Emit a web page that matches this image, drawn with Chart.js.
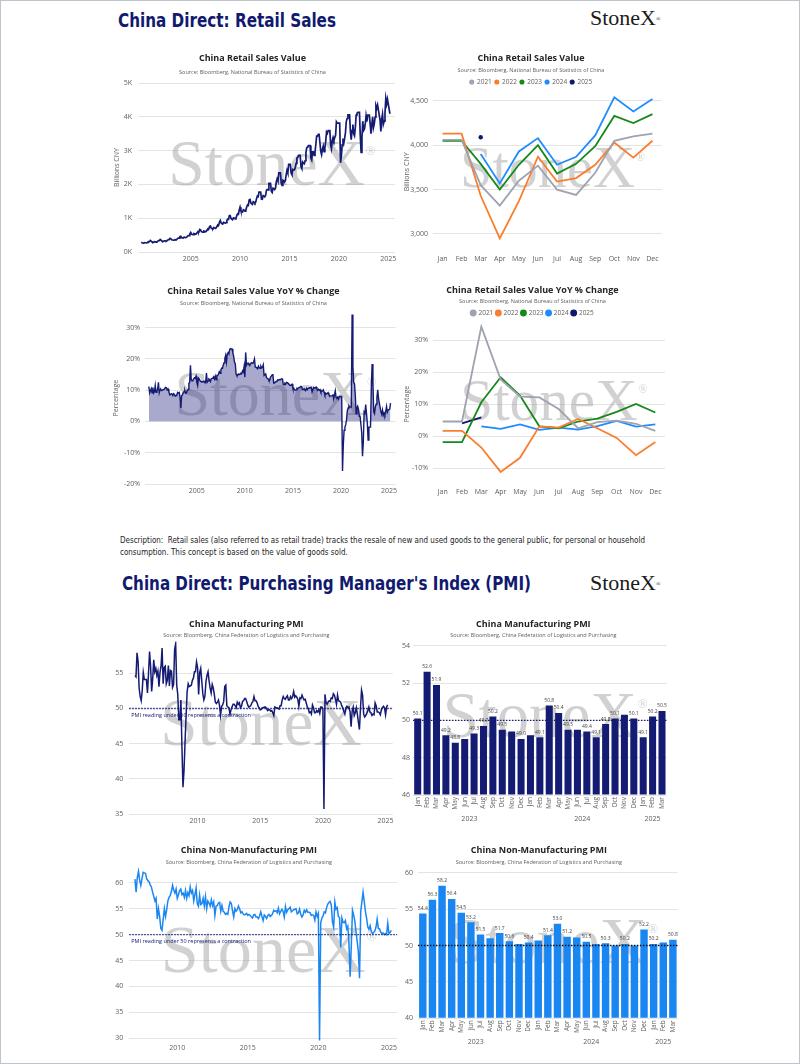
<!DOCTYPE html>
<html>
<head>
<meta charset="utf-8">
<title>China Direct: Retail Sales and PMI</title>
<script src="https://cdn.jsdelivr.net/npm/chart.js@4.4.1/dist/chart.umd.min.js"></script>
<style>
  html, body { margin: 0; padding: 0; background: #ffffff; }
  #page { position: relative; width: 800px; height: 1064px; overflow: hidden; background: #ffffff; }
  #frame { position: absolute; left: 0; top: 0; width: 800px; height: 1064px; box-sizing: border-box; border: 1px solid #bfc4cc; pointer-events: none; }
  .head { position: absolute; font-family: "DejaVu Sans Condensed", "DejaVu Sans", sans-serif; font-weight: bold; font-size: 20px; line-height: 24px; color: #111a6f; white-space: nowrap; transform-origin: 0 50%; }
  .logo { position: absolute; font-family: "Liberation Serif", "DejaVu Serif", serif; font-size: 22px; line-height: 24px; color: #1b1b1b; white-space: nowrap; }
  .logo sup { font-size: 6px; vertical-align: top; position: relative; top: 1px; }
  .desc { position: absolute; left: 120px; top: 534px; font-family: "DejaVu Sans Condensed", "DejaVu Sans", sans-serif; font-size: 8.6px; line-height: 12px; color: #222222; white-space: nowrap; transform-origin: 0 0; }
  .box { position: absolute; width: 300px; height: 222px; }
</style>
</head>
<body>
<div id="page">
  <div class="head" data-fit="218" style="left:118px;top:8px">China Direct: Retail Sales</div>
  <div class="logo" style="left:590px;top:6px">StoneX<sup>®</sup></div>

  <div class="box" style="left:100px;top:48px"><canvas id="retailValue"></canvas></div>
  <div class="box" style="left:400px;top:48px"><canvas id="retailSeason"></canvas></div>
  <div class="box" style="left:100px;top:280px"><canvas id="retailYoY"></canvas></div>
  <div class="box" style="left:400px;top:280px"><canvas id="retailYoYSeason"></canvas></div>

  <div class="desc" data-fit="525"><span>Description:&nbsp; Retail sales (also referred to as retail trade) tracks the resale of new and used goods to the general public, for personal or household</span><br><span>consumption. This concept is based on the value of goods sold.</span></div>

  <div class="head" data-fit="409" style="left:122px;top:571px">China Direct: Purchasing Manager's Index (PMI)</div>
  <div class="logo" style="left:590px;top:571px">StoneX<sup>®</sup></div>

  <div class="box" style="left:100px;top:612px"><canvas id="mfgLine"></canvas></div>
  <div class="box" style="left:400px;top:612px"><canvas id="mfgBars"></canvas></div>
  <div class="box" style="left:100px;top:840px"><canvas id="nonMfgLine"></canvas></div>
  <div class="box" style="left:400px;top:840px"><canvas id="nonMfgBars"></canvas></div>
  <div id="frame"></div>
</div>

<script>
// ---- DATA ----
const monthNames = ['Jan', 'Feb', 'Mar', 'Apr', 'May', 'Jun', 'Jul', 'Aug', 'Sep', 'Oct', 'Nov', 'Dec'];

// retail sales value, billions CNY (year, Jan..Dec)
const retailSalesValue = [
  [2000, 294, 271, 265, 262, 276, 274, 268, 274, 294, 308, 305, 339],
  [2001, 322, 298, 291, 288, 304, 300, 294, 300, 322, 338, 335, 372],
  [2002, 351, 324, 317, 314, 331, 327, 321, 327, 351, 368, 365, 406],
  [2003, 393, 363, 355, 351, 348, 367, 359, 367, 393, 413, 409, 455],
  [2004, 464, 428, 419, 414, 437, 432, 423, 432, 464, 486, 482, 536],
  [2005, 577, 532, 521, 515, 543, 538, 526, 538, 577, 605, 599, 666],
  [2006, 656, 605, 592, 586, 618, 612, 599, 612, 656, 688, 682, 758],
  [2007, 765, 706, 691, 684, 721, 713, 698, 713, 765, 802, 795, 884],
  [2008, 931, 859, 841, 832, 877, 868, 850, 868, 931, 976, 967, 1076],
  [2009, 1075, 992, 971, 960, 1013, 1002, 981, 1002, 1075, 1128, 1117, 1242],
  [2010, 1327, 1224, 1198, 1185, 1249, 1236, 1211, 1236, 1327, 1391, 1378, 1533],
  [2011, 1579, 1456, 1426, 1410, 1487, 1472, 1441, 1472, 1579, 1656, 1640, 1772],
  [2012, 1772, 1772, 1564, 1560, 1670, 1660, 1633, 1670, 1823, 1850, 1840, 2033],
  [2013, 2033, 2033, 1790, 1760, 1890, 1880, 1850, 1890, 2070, 2160, 2100, 2340],
  [2014, 2340, 2340, 2040, 1970, 2120, 2110, 2070, 2110, 2290, 2420, 2340, 2590],
  [2015, 2590, 2590, 2340, 2290, 2440, 2430, 2430, 2490, 2620, 2780, 2800, 2860],
  [2016, 2860, 2860, 2520, 2470, 2660, 2630, 2610, 2700, 2950, 3090, 3100, 3150],
  [2017, 3150, 3150, 2780, 2720, 2960, 2960, 2860, 2950, 3180, 3430, 3430, 3480],
  [2018, 3480, 3480, 2980, 2880, 3040, 3130, 2970, 3080, 3270, 3550, 3510, 3590],
  [2019, 3590, 3590, 3170, 3060, 3300, 3390, 3310, 3390, 3450, 3850, 3810, 3810],
  [2020, 3810, 3810, 2640, 2820, 3170, 3360, 3220, 3360, 3530, 3860, 3950, 4060],
  [2021, 4060, 4060, 3550, 3320, 3600, 3770, 3500, 3440, 3690, 4050, 4100, 4130],
  [2022, 4130, 4130, 3430, 2950, 3370, 3870, 3590, 3630, 3780, 4030, 3860, 4050],
  [2023, 4050, 4050, 3790, 3500, 3780, 4000, 3680, 3790, 3990, 4330, 4250, 4350],
  [2024, null, null, 3900, 3570, 3930, 4080, 3780, 3870, 4110, 4540, 4380, 4520],
  [2025, null, null, 4090]
];

// retail sales value YoY %, (year, Jan..Dec)
const retailSalesYoY = [
  [2000, 11.2, 9.1, 9.8, 10.5, 9.2, 10.9, 9.1, 9.5, 11.5, 9.3, 9.6, 10.4],
  [2001, 12.5, 9.2, 10.1, 10.3, 9.9, 10.1, 10.2, 10.3, 10.3, 10.9, 10.8, 10.1],
  [2002, 10.4, 9.6, 8.5, 8.6, 8.9, 8.8, 8.5, 8.9, 8.6, 8.1, 8.3, 8.6],
  [2003, 9.3, 9.1, 9.3, 7.7, 4.3, 8.3, 8.5, 9.3, 9.5, 9.9, 9.0, 9.1],
  [2004, 10.0, 10.2, 12.2, 12.5, 18.0, 13.3, 13.0, 13.2, 13.6, 14.0, 13.8, 14.5],
  [2005, 12.5, 11.5, 13.9, 13.6, 13.0, 12.8, 12.7, 12.7, 12.8, 12.9, 12.5, 12.5],
  [2006, 15.5, 12.6, 13.0, 13.6, 13.4, 12.8, 13.7, 13.8, 13.9, 14.3, 13.6, 14.5],
  [2007, 13.3, 14.7, 14.7, 15.2, 15.9, 15.4, 16.4, 17.1, 17.0, 18.1, 18.8, 20.2],
  [2008, 21.2, 19.1, 21.5, 22.0, 21.6, 23.0, 23.3, 23.2, 23.2, 22.0, 20.8, 19.0],
  [2009, 18.5, 15.2, 14.7, 14.8, 15.2, 15.0, 15.2, 15.4, 15.3, 16.2, 15.8, 17.5],
  [2010, 14.2, 22.1, 18.0, 18.5, 18.7, 18.3, 17.9, 18.4, 18.8, 18.6, 18.7, 19.1],
  [2011, 20.0, 17.4, 17.4, 17.1, 16.9, 17.7, 17.2, 17.0, 17.7, 17.2, 17.3, 18.1],
  [2012, 14.7, 14.7, 15.2, 14.1, 13.8, 13.7, 13.1, 13.2, 14.2, 14.5, 14.9, 15.2],
  [2013, 12.3, 12.3, 12.6, 12.8, 12.9, 13.3, 13.2, 13.4, 13.3, 13.3, 13.7, 13.6],
  [2014, 11.8, 11.8, 12.2, 11.9, 12.5, 12.4, 12.2, 11.9, 11.6, 11.5, 11.7, 11.9],
  [2015, 10.7, 10.7, 10.2, 10.0, 10.1, 10.6, 10.5, 10.8, 10.9, 11.0, 11.2, 11.1],
  [2016, 10.2, 10.2, 10.5, 10.1, 10.0, 10.6, 10.2, 10.6, 10.7, 10.8, 10.8, 10.9],
  [2017, 9.5, 9.5, 10.9, 10.7, 10.7, 11.0, 10.4, 10.1, 10.3, 10.0, 10.2, 9.4],
  [2018, 9.7, 9.7, 10.1, 9.4, 8.5, 9.0, 8.8, 9.0, 9.2, 8.6, 8.1, 8.2],
  [2019, 8.2, 8.2, 8.7, 7.2, 8.6, 9.8, 7.6, 7.5, 7.8, 7.2, 8.0, 8.0],
  [2020, 8.0, 8.0, -15.8, -7.5, -2.8, -1.8, -1.1, 0.5, 3.3, 4.3, 5.0, 4.6],
  [2021, 4.6, 4.6, 34.2, 17.7, 12.4, 12.1, 8.5, 2.5, 4.4, 4.9, 3.9, 1.7],
  [2022, 1.7, 1.7, -3.5, -11.1, -6.7, 3.1, 2.7, 5.4, 2.5, -0.5, -5.9, -1.8],
  [2023, -1.8, -1.8, 10.6, 18.4, 12.7, 3.1, 2.5, 4.6, 5.5, 7.6, 10.1, 7.4],
  [2024, null, null, 3.1, 2.3, 3.7, 2.0, 2.7, 2.1, 3.2, 4.8, 3.0, 3.7],
  [2025, null, 4.0, 5.9]
];

// manufacturing PMI (year, Jan..Dec)
const mfgPMI = [
  [2005, 54.7, 54.5, 57.9, 56.7, 52.9, 51.7, 51.1, 52.6, 55.1, 54.1, 54.1, 54.1],
  [2006, 52.2, 55.0, 58.1, 56.0, 52.4, 54.2, 56.9, 55.2, 55.7, 54.7, 55.3, 53.1],
  [2007, 55.1, 56.0, 58.6, 53.5, 55.8, 56.0, 53.5, 54.0, 56.1, 53.2, 55.4, 55.3],
  [2008, 53.0, 53.4, 58.4, 59.2, 53.3, 52.0, 48.4, 48.4, 51.2, 44.6, 38.8, 41.2],
  [2009, 45.3, 49.0, 52.4, 53.5, 53.1, 53.2, 53.3, 54.0, 54.3, 55.2, 55.2, 56.6],
  [2010, 55.8, 52.0, 55.1, 55.7, 53.9, 52.1, 51.2, 51.7, 53.8, 54.7, 55.2, 53.9],
  [2011, 52.9, 52.2, 53.4, 52.9, 52.0, 50.9, 50.7, 50.9, 51.2, 50.4, 49.0, 50.3],
  [2012, 50.5, 51.0, 53.1, 53.3, 50.4, 50.2, 50.1, 49.2, 49.8, 50.2, 50.6, 50.6],
  [2013, 50.4, 50.1, 50.9, 50.6, 50.8, 50.1, 50.3, 51.0, 51.1, 51.4, 51.4, 51.0],
  [2014, 50.5, 50.2, 50.3, 50.4, 50.8, 51.0, 51.7, 51.1, 51.1, 50.8, 50.3, 50.1],
  [2015, 49.8, 49.9, 50.1, 50.1, 50.2, 50.2, 50.0, 49.7, 49.8, 49.8, 49.6, 49.7],
  [2016, 49.4, 49.0, 50.2, 50.1, 50.1, 50.0, 49.9, 50.4, 50.4, 51.2, 51.7, 51.4],
  [2017, 51.3, 51.6, 51.8, 51.2, 51.2, 51.7, 51.4, 51.7, 52.4, 51.6, 51.8, 51.6],
  [2018, 51.3, 50.3, 51.5, 51.4, 51.9, 51.5, 51.2, 51.3, 50.8, 50.2, 50.0, 49.4],
  [2019, 49.5, 49.2, 50.5, 50.1, 49.4, 49.4, 49.7, 49.5, 49.8, 49.3, 50.2, 50.2],
  [2020, 50.0, 35.7, 52.0, 50.8, 50.6, 50.9, 51.1, 51.0, 51.5, 51.4, 52.1, 51.9],
  [2021, 51.3, 50.6, 51.9, 51.1, 51.0, 50.9, 50.4, 50.1, 49.6, 49.2, 50.1, 50.3],
  [2022, 50.1, 50.2, 49.5, 47.4, 49.6, 50.2, 49.0, 49.4, 50.1, 49.2, 48.0, 47.0],
  [2023, 50.1, 52.6, 51.9, 49.2, 48.8, 49.0, 49.3, 49.7, 50.2, 49.5, 49.4, 49.0],
  [2024, 49.2, 49.1, 50.8, 50.4, 49.5, 49.5, 49.4, 49.1, 49.8, 50.1, 50.3, 50.1],
  [2025, 49.1, 50.2, 50.5]
];

// non-manufacturing PMI (year, Jan..Dec)
const nonMfgPMI = [
  [2007, 60.7, 58.2, 61.0, 62.2, 60.5, 59.5, 60.8, 62.0, 61.9, 61.8, 60.8, 60.4],
  [2008, 60.2, 59.6, 59.2, 58.2, 57.4, 56.5, 57.0, 53.0, 55.0, 53.5, 51.2, 50.8],
  [2009, 52.9, 55.0, 53.5, 54.8, 56.5, 57.2, 57.5, 58.3, 59.5, 58.6, 58.0, 58.8],
  [2010, 57.0, 57.7, 58.5, 58.8, 57.7, 58.0, 57.2, 58.5, 57.0, 58.1, 57.5, 59.2],
  [2011, 58.0, 58.5, 56.5, 57.7, 59.0, 56.0, 55.5, 57.6, 55.8, 56.0, 57.0, 55.5],
  [2012, 57.3, 55.0, 56.5, 56.1, 55.5, 56.7, 55.6, 56.3, 53.7, 55.5, 55.6, 56.1],
  [2013, 56.2, 54.5, 55.6, 54.5, 54.3, 53.9, 54.1, 53.9, 55.4, 56.3, 56.0, 54.6],
  [2014, 53.4, 55.0, 54.5, 54.8, 55.5, 55.0, 54.2, 54.4, 54.0, 53.8, 53.9, 54.1],
  [2015, 53.7, 53.9, 53.7, 53.4, 53.2, 53.8, 53.9, 53.4, 53.4, 53.1, 53.6, 54.4],
  [2016, 53.5, 52.7, 53.8, 53.5, 53.1, 53.7, 53.9, 53.5, 53.7, 54.0, 54.7, 54.5],
  [2017, 54.6, 54.2, 55.1, 54.0, 54.5, 54.9, 54.5, 53.4, 55.4, 54.3, 54.8, 55.0],
  [2018, 55.3, 54.4, 54.6, 54.8, 54.9, 55.0, 54.0, 54.2, 54.9, 53.9, 53.4, 53.8],
  [2019, 54.7, 54.3, 54.8, 54.3, 54.3, 54.2, 53.7, 53.8, 53.7, 52.8, 54.4, 53.5],
  [2020, 54.1, 29.6, 52.3, 53.2, 53.6, 54.4, 54.2, 55.2, 55.9, 56.2, 56.4, 55.7],
  [2021, 52.4, 51.4, 56.3, 54.9, 55.2, 53.5, 53.3, 47.5, 53.2, 52.4, 52.3, 52.7],
  [2022, 51.1, 51.6, 48.4, 41.9, 47.8, 54.7, 53.8, 52.6, 50.6, 48.7, 46.7, 41.6],
  [2023, 54.4, 56.3, 58.2, 56.4, 54.5, 53.2, 51.5, 51.0, 51.7, 50.6, 50.2, 50.4],
  [2024, 50.7, 51.4, 53.0, 51.2, 51.1, 50.5, 50.2, 50.3, 50.0, 50.2, 50.0, 52.2],
  [2025, 50.2, 50.4, 50.8]
];

const seasonYears = [2021, 2022, 2023, 2024, 2025];
const barYears = [2023, 2024, 2025];

const longYearTicks = [2005, 2010, 2015, 2020, 2025];
const pmiYearTicks = [2010, 2015, 2020, 2025];
const retailValueTicks = [0, 1000, 2000, 3000, 4000, 5000];
const retailSeasonTicks = [3000, 3500, 4000, 4500];
const yoyTicks = [-20, -10, 0, 10, 20, 30];
const yoySeasonTicks = [-10, 0, 10, 20, 30];
const mfgLineTicks = [35, 40, 45, 50, 55];
const nonMfgLineTicks = [30, 35, 40, 45, 50, 55, 60];
const mfgBarTicks = [46, 48, 50, 52, 54];
const nonMfgBarTicks = [40, 45, 50, 55, 60];

const contractionLevel = 50;
const contractionNote = 'PMI reading under 50 represents a contraction';

// ---- STYLE ----
const FONT = '"Open Sans", "Noto Sans", sans-serif';
const NAVY = '#141b73';
const BLUE = '#1a86f2';
const GRID = '#e4e4e4';
const TICK = '#605e5c';
const TITLE = '#252423';
const seasonColors = ['#9ea3b0', '#fb7d2e', '#15891a', '#1e8bff', '#101868'];

Chart.defaults.font.family = FONT;
Chart.defaults.color = TICK;

// squeeze the condensed headings to the width of the original narrow face
document.querySelectorAll('[data-fit]').forEach(el => {
  const target = +el.dataset.fit;
  const spans = el.querySelectorAll('span');
  const w = spans.length ? spans[0].getBoundingClientRect().width : el.getBoundingClientRect().width;
  el.style.transform = 'scaleX(' + (target / w) + ')';
});

// ---- helpers ----
function monthlyPoints(rows) {
  const pts = [];
  rows.forEach(r => r.slice(1).forEach((v, m) => {
    if (v !== null) pts.push({ x: r[0] + m / 12, y: v });
  }));
  return pts;
}

function yearRow(rows, year) {
  const r = rows.find(row => row[0] === year);
  return monthNames.map((_, i) => (r[i + 1] === undefined ? null : r[i + 1]));
}

function barSeries(rows) {
  const labels = [], values = [], groups = [];
  barYears.forEach(y => {
    const r = rows.find(row => row[0] === y);
    const first = labels.length;
    r.slice(1).forEach((v, m) => { labels.push(monthNames[m]); values.push(v); });
    groups.push({ label: String(y), first: first, last: labels.length - 1 });
  });
  return { labels, values, groups };
}

// ---- plugins ----
const watermarkPlugin = {
  id: 'watermark',
  beforeDatasetsDraw(chart) {
    const { ctx, chartArea: a } = chart;
    const size = a.width * 0.255;
    const cx = (a.left + a.right) / 2, cy = (a.top + a.bottom) / 2;
    ctx.save();
    ctx.fillStyle = 'rgba(140,140,140,0.4)';
    ctx.textAlign = 'center';
    ctx.textBaseline = 'middle';
    ctx.font = size + 'px "Liberation Serif", "DejaVu Serif", serif';
    ctx.fillText('StoneX', cx, cy);
    const w = ctx.measureText('StoneX').width;
    ctx.font = (size * 0.2) + 'px "Liberation Serif", serif';
    ctx.fillText('®', cx + w / 2 + size * 0.09, cy - size * 0.24);
    ctx.restore();
  }
};

const refLinePlugin = {
  id: 'refLine',
  afterDatasetsDraw(chart, args, opts) {
    if (!opts || opts.value === undefined) return;
    const { ctx, chartArea: a } = chart;
    const y = chart.scales.y.getPixelForValue(opts.value);
    ctx.save();
    ctx.strokeStyle = opts.color;
    ctx.lineWidth = 1.4;
    ctx.setLineDash([1.4, 1.6]);
    ctx.beginPath();
    ctx.moveTo(a.left, y);
    ctx.lineTo(a.right, y);
    ctx.stroke();
    if (opts.label) {
      ctx.fillStyle = opts.color;
      ctx.font = '5.5px ' + FONT;
      ctx.textAlign = 'left';
      ctx.textBaseline = 'middle';
      ctx.fillText(opts.label, a.left + 2, y + 6.5);
    }
    ctx.restore();
  }
};

const barLabelPlugin = {
  id: 'barLabels',
  afterDatasetsDraw(chart, args, opts) {
    if (!opts || !opts.show) return;
    const { ctx } = chart;
    const meta = chart.getDatasetMeta(0);
    const data = chart.data.datasets[0].data;
    const placed = [];
    ctx.save();
    ctx.font = '5px ' + FONT;
    ctx.fillStyle = '#444444';
    ctx.textAlign = 'center';
    ctx.textBaseline = 'bottom';
    meta.data.forEach((bar, i) => {
      const text = data[i].toFixed(1);
      const w = ctx.measureText(text).width + 3;
      const box = { l: bar.x - w / 2, r: bar.x + w / 2, t: bar.y - 2.5 - 5, b: bar.y - 2.5 };
      if (placed.some(p => p.l < box.r && box.l < p.r && p.t < box.b && box.t < p.b)) return;
      placed.push(box);
      ctx.fillText(text, bar.x, box.b);
    });
    ctx.restore();
  }
};

const yearGroupPlugin = {
  id: 'yearGroups',
  afterDraw(chart, args, opts) {
    if (!opts || !opts.groups) return;
    const { ctx, chartArea: a } = chart;
    const x = chart.scales.x;
    ctx.save();
    ctx.font = '7px ' + FONT;
    ctx.fillStyle = TICK;
    ctx.textAlign = 'center';
    ctx.textBaseline = 'middle';
    opts.groups.forEach(g => {
      const cx = (x.getPixelForValue(g.first) + x.getPixelForValue(g.last)) / 2;
      ctx.fillText(g.label, cx, a.bottom + opts.offset);
    });
    ctx.restore();
  }
};

Chart.register(watermarkPlugin, refLinePlugin, barLabelPlugin, yearGroupPlugin);

function trimLegend(by) {
  return {
    id: 'trimLegend',
    beforeInit(chart) {
      const fit = chart.legend.fit;
      chart.legend.fit = function () { fit.call(this); this.height -= by; };
    }
  };
}

// ---- option builders ----
function titles(o) {
  return {
    title: { display: true, text: o.title, color: TITLE, font: { size: 9, weight: 'bold' }, padding: { top: o.tTop, bottom: 1 } },
    subtitle: { display: true, text: o.sub, color: TICK, font: { size: 5.5 }, padding: { top: o.sTop, bottom: o.sBot } }
  };
}

function yAxis(o) {
  return {
    type: 'linear', position: 'left', min: o.min, max: o.max,
    afterBuildTicks: s => { s.ticks = o.ticks.map(v => ({ value: v })); },
    afterFit: s => { s.width = o.width; },
    grid: { color: GRID, drawTicks: false, lineWidth: 1 },
    border: { display: false },
    ticks: { color: TICK, font: { size: 7 }, padding: o.tickPad || 5, callback: o.fmt || (v => String(v)) },
    title: o.title
      ? { display: true, text: o.title, color: TICK, font: { size: 7 }, padding: { top: o.titlePad, bottom: 0 } }
      : { display: false }
  };
}

function yearAxis(o) {
  return {
    type: 'linear', min: o.min, max: o.max,
    afterBuildTicks: s => { s.ticks = o.ticks.map(v => ({ value: v })); },
    afterFit: s => { s.height = 12; },
    grid: { display: false, drawTicks: false },
    border: { display: false },
    ticks: { color: TICK, font: { size: 7 }, padding: 3, maxRotation: 0, autoSkip: false, callback: v => String(v) }
  };
}

function monthAxis() {
  return {
    type: 'category', offset: true,
    afterFit: s => { s.height = 12; },
    grid: { display: false, drawTicks: false },
    border: { display: false },
    ticks: { color: TICK, font: { size: 7 }, padding: 3, maxRotation: 0, autoSkip: false }
  };
}

function barAxis() {
  return {
    type: 'category', offset: true,
    afterFit: s => { s.height = 24; },
    grid: { display: false, drawTicks: false },
    border: { display: false },
    ticks: { color: TICK, font: { size: 6.5 }, padding: 2, minRotation: 90, maxRotation: 90, autoSkip: false }
  };
}

const seasonLegend = {
  display: true,
  labels: { usePointStyle: true, pointStyle: 'circle', boxWidth: 4, boxHeight: 3.6, padding: 3, color: TICK, font: { size: 6.5 } }
};

const common = { responsive: true, maintainAspectRatio: false, animation: false, events: [] };

// ---- 1: retail sales value ----
new Chart(document.getElementById('retailValue'), {
  type: 'line',
  data: { datasets: [{ data: monthlyPoints(retailSalesValue), borderColor: NAVY, borderWidth: 1.7, pointRadius: 0 }] },
  options: Object.assign({}, common, {
    layout: { padding: { left: 10, right: 5, top: 0, bottom: 6 } },
    plugins: Object.assign({ legend: { display: false }, tooltip: { enabled: false } },
      titles({ title: 'China Retail Sales Value', sub: 'Source: Bloomberg, National Bureau of Statistics of China', tTop: 4.6, sTop: 4.3, sBot: 7.7 })),
    scales: {
      x: yearAxis({ min: 1999.67, max: 2025.68, ticks: longYearTicks }),
      y: yAxis({ min: 0, max: 5000, ticks: retailValueTicks, width: 28, title: 'Billions CNY', titlePad: 2.8, tickPad: 6, fmt: v => (v / 1000) + 'K' })
    }
  })
});

// ---- 2: retail sales value by year ----
new Chart(document.getElementById('retailSeason'), {
  type: 'line',
  data: {
    labels: monthNames,
    datasets: seasonYears.map((y, i) => ({
      label: String(y), data: yearRow(retailSalesValue, y),
      borderColor: seasonColors[i], backgroundColor: seasonColors[i], borderWidth: 1.8,
      pointRadius: y === 2025 ? 2.2 : 0, pointBorderWidth: 0
    }))
  },
  options: Object.assign({}, common, {
    layout: { padding: { left: 0, right: 38, top: 0, bottom: 6.3 } },
    plugins: Object.assign({ legend: seasonLegend, tooltip: { enabled: false } },
      titles({ title: 'China Retail Sales Value', sub: 'Source: Bloomberg, National Bureau of Statistics of China', tTop: 4.6, sTop: 2.3, sBot: 2.45 })),
    scales: {
      x: monthAxis(),
      y: yAxis({ min: 2800, max: 4600, ticks: retailSeasonTicks, width: 33, title: 'Billions CNY', titlePad: 2.8, fmt: v => v.toLocaleString('en-US') })
    }
  }),
  plugins: [trimLegend(3.25)]
});

// ---- 3: retail sales YoY ----
new Chart(document.getElementById('retailYoY'), {
  type: 'line',
  data: {
    datasets: [{
      data: monthlyPoints(retailSalesYoY), borderColor: NAVY, borderWidth: 1.4, pointRadius: 0,
      fill: { target: 'origin', above: 'rgba(25,30,120,0.38)', below: 'rgba(0,0,0,0)' }
    }]
  },
  options: Object.assign({}, common, {
    layout: { padding: { left: 10, right: 3, top: 0, bottom: 6 } },
    plugins: Object.assign({ legend: { display: false }, tooltip: { enabled: false } },
      titles({ title: 'China Retail Sales Value YoY % Change', sub: 'Source: Bloomberg, National Bureau of Statistics of China', tTop: 5.6, sTop: 2.3, sBot: 5.8 })),
    scales: {
      x: yearAxis({ min: 1999.6, max: 2025.7, ticks: longYearTicks }),
      y: yAxis({ min: -20, max: 35, ticks: yoyTicks, width: 35, title: 'Percentage', titlePad: 1.8, fmt: v => v + '%' })
    }
  })
});

// ---- 4: retail sales YoY by year ----
new Chart(document.getElementById('retailYoYSeason'), {
  type: 'line',
  data: {
    labels: monthNames,
    datasets: seasonYears.map((y, i) => ({
      label: String(y), data: yearRow(retailSalesYoY, y),
      borderColor: seasonColors[i], backgroundColor: seasonColors[i], borderWidth: 1.8, pointRadius: 0
    }))
  },
  options: Object.assign({}, common, {
    layout: { padding: { left: 0, right: 35, top: 0, bottom: 5.6 } },
    plugins: Object.assign({ legend: seasonLegend, tooltip: { enabled: false } },
      titles({ title: 'China Retail Sales Value YoY % Change', sub: 'Source: Bloomberg, National Bureau of Statistics of China', tTop: 4.6, sTop: 1.3, sBot: 2.45 })),
    scales: {
      x: monthAxis(),
      y: yAxis({ min: -15, max: 35, ticks: yoySeasonTicks, width: 33, title: 'Percentage', titlePad: 2.8, fmt: v => v + '%' })
    }
  }),
  plugins: [trimLegend(2.25)]
});

// ---- 5: manufacturing PMI ----
new Chart(document.getElementById('mfgLine'), {
  type: 'line',
  data: { datasets: [{ data: monthlyPoints(mfgPMI), borderColor: NAVY, borderWidth: 1.5, pointRadius: 0 }] },
  options: Object.assign({}, common, {
    layout: { padding: { left: 0, right: 7.3, top: 0, bottom: 8 } },
    plugins: Object.assign({ legend: { display: false }, tooltip: { enabled: false },
      refLine: { value: contractionLevel, color: NAVY, label: contractionNote } },
      titles({ title: 'China Manufacturing PMI', sub: 'Source: Bloomberg, China Federation of Logistics and Purchasing', tTop: 6.6, sTop: 1.3, sBot: 3.3 })),
    scales: {
      x: yearAxis({ min: 2004.55, max: 2025.57, ticks: pmiYearTicks }),
      y: yAxis({ min: 35, max: 59.5, ticks: mfgLineTicks, width: 29.3, tickPad: 6 })
    }
  })
});

// ---- 6: manufacturing PMI bars ----
const mfgBarData = barSeries(mfgPMI);
new Chart(document.getElementById('mfgBars'), {
  type: 'bar',
  data: {
    labels: mfgBarData.labels,
    datasets: [{ data: mfgBarData.values, backgroundColor: NAVY, categoryPercentage: 0.86, barPercentage: 0.87, base: 46 }]
  },
  options: Object.assign({}, common, {
    layout: { padding: { left: 0, right: 33.3, top: 0, bottom: 15 } },
    plugins: Object.assign({ legend: { display: false }, tooltip: { enabled: false },
      refLine: { value: contractionLevel, color: NAVY },
      barLabels: { show: true },
      yearGroups: { groups: mfgBarData.groups, offset: 23.5 } },
      titles({ title: 'China Manufacturing PMI', sub: 'Source: Bloomberg, China Federation of Logistics and Purchasing', tTop: 6.6, sTop: 1.3, sBot: 7.4 })),
    scales: {
      x: barAxis(),
      y: yAxis({ min: 46, max: 54, ticks: mfgBarTicks, width: 13, tickPad: 3 })
    }
  })
});

// ---- 7: non-manufacturing PMI ----
new Chart(document.getElementById('nonMfgLine'), {
  type: 'line',
  data: { datasets: [{ data: monthlyPoints(nonMfgPMI), borderColor: BLUE, borderWidth: 1.5, pointRadius: 0 }] },
  options: Object.assign({}, common, {
    layout: { padding: { left: 0, right: 2.3, top: 0, bottom: 9.1 } },
    plugins: Object.assign({ legend: { display: false }, tooltip: { enabled: false },
      refLine: { value: contractionLevel, color: NAVY, label: contractionNote } },
      titles({ title: 'China Non-Manufacturing PMI', sub: 'Source: Bloomberg, China Federation of Logistics and Purchasing', tTop: 4.6, sTop: 2.3, sBot: 1.9 })),
    scales: {
      x: yearAxis({ min: 2006.6, max: 2025.58, ticks: pmiYearTicks }),
      y: yAxis({ min: 29.5, max: 63, ticks: nonMfgLineTicks, width: 29.3, tickPad: 6 })
    }
  })
});

// ---- 8: non-manufacturing PMI bars ----
const nonMfgBarData = barSeries(nonMfgPMI);
new Chart(document.getElementById('nonMfgBars'), {
  type: 'bar',
  data: {
    labels: nonMfgBarData.labels,
    datasets: [{ data: nonMfgBarData.values, backgroundColor: BLUE, categoryPercentage: 0.86, barPercentage: 0.9, base: 40 }]
  },
  options: Object.assign({}, common, {
    layout: { padding: { left: 0, right: 22.3, top: 0, bottom: 19.7 } },
    plugins: Object.assign({ legend: { display: false }, tooltip: { enabled: false },
      refLine: { value: contractionLevel, color: '#111111' },
      barLabels: { show: true },
      yearGroups: { groups: nonMfgBarData.groups, offset: 23.5 } },
      titles({ title: 'China Non-Manufacturing PMI', sub: 'Source: Bloomberg, China Federation of Logistics and Purchasing', tTop: 4.6, sTop: 2.3, sBot: 7.4 })),
    scales: {
      x: barAxis(),
      y: yAxis({ min: 40, max: 60, ticks: nonMfgBarTicks, width: 18, tickPad: 5 })
    }
  })
});
</script>
</body>
</html>
